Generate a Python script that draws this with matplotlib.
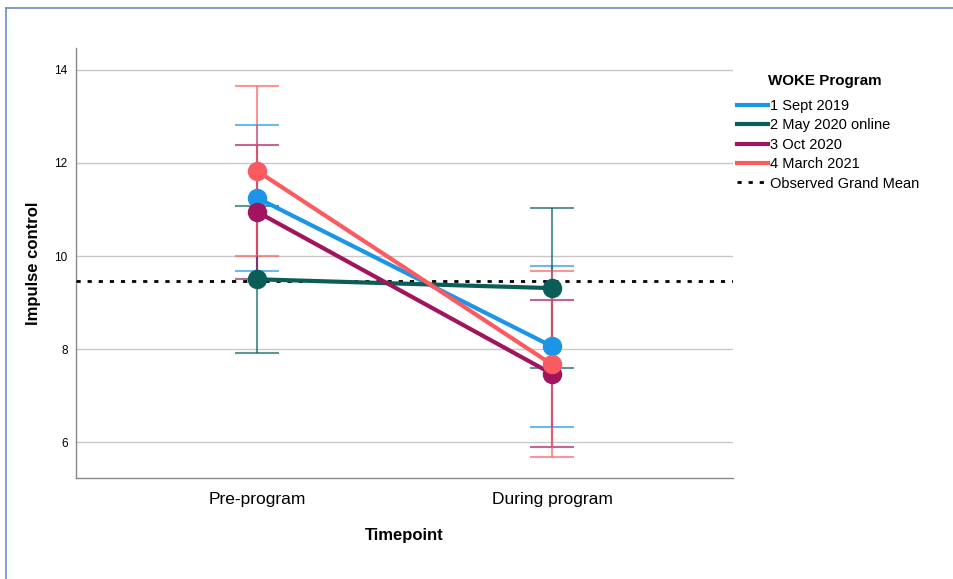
import matplotlib
matplotlib.use("Agg")
import matplotlib.pyplot as plt
from matplotlib.lines import Line2D
import numpy as np

plt.rcParams['font.family'] = ['Liberation Sans', 'DejaVu Sans']

timepoints = ["Pre-program", "During program"]
series = ["1 Sept 2019", "2 May 2020 online", "3 Oct 2020", "4 March 2021"]
colors = ["#1a95e8", "#0b5e57", "#a1145e", "#fb5a60"]
means = {
    "1 Sept 2019": [11.25, 8.06],
    "2 May 2020 online": [9.50, 9.31],
    "3 Oct 2020": [10.95, 7.47],
    "4 March 2021": [11.83, 7.67],
}
upper = {
    "1 Sept 2019": [12.82, 9.78],
    "2 May 2020 online": [11.08, 11.04],
    "3 Oct 2020": [12.39, 9.05],
    "4 March 2021": [13.66, 9.68],
}
lower = {
    "1 Sept 2019": [9.68, 6.33],
    "2 May 2020 online": [7.92, 7.59],
    "3 Oct 2020": [9.51, 5.89],
    "4 March 2021": [10.01, 5.68],
}
grand_mean = 9.46
yticks = [6, 8, 10, 12, 14]

fig = plt.figure(figsize=(9.54, 5.79), dpi=100)
ax = fig.add_axes([76/954, 1-478/579, (733-76)/954, (478-48)/579])

x = np.arange(len(timepoints))
for s, c in zip(series, colors):
    m = np.array(means[s]); u = np.array(upper[s]); l = np.array(lower[s])
    ax.errorbar(x, m, yerr=[m - l, u - m], fmt='none', ecolor=c, alpha=0.65,
                elinewidth=1.5, capsize=16, capthick=1.5, zorder=3)
for s, c in zip(series, colors):
    ax.plot(x, means[s], color=c, lw=3, marker='o', ms=13, zorder=4, label=s)

ax.axhline(grand_mean, color='black', ls=(0, (1.5, 2.5)), lw=2, zorder=3.5,
           label="Observed Grand Mean")

ax.set_xlim(-0.614, 1.614)
ax.set_ylim(5.23, 14.47)
ax.set_yticks(yticks)
ax.set_yticklabels([str(t) for t in yticks], fontsize=8.5)
ax.set_xticks(x)
ax.set_xticklabels(timepoints, fontsize=12.5)
ax.tick_params(axis='y', length=0, pad=6)
ax.tick_params(axis='x', length=0, pad=10)
ax.grid(axis='y', color='#c8c8c8', lw=1)
ax.set_axisbelow(True)
for sp in ['top', 'right']:
    ax.spines[sp].set_visible(False)
for sp in ['left', 'bottom']:
    ax.spines[sp].set_color('#888888')
    ax.spines[sp].set_linewidth(1)

ax.set_ylabel("Impulse control", fontsize=12, fontweight='bold', labelpad=10)
ax.set_xlabel("Timepoint", fontsize=12, fontweight='bold', labelpad=15)

handles = [Line2D([], [], color=c, lw=3) for c in colors]
handles.append(Line2D([], [], color='black', lw=2, ls=(0, (1.5, 2.5))))
leg = fig.legend(handles, series + ["Observed Grand Mean"], loc='upper left',
                 bbox_to_anchor=(737/954, 1-99/579), frameon=False, fontsize=10.5,
                 borderpad=0, borderaxespad=0,
                 handlelength=2.15, handletextpad=0.1, labelspacing=0.37)
fig.text(768/954, 1-81/579, "WOKE Program", fontsize=10.9, fontweight='bold',
         ha='left', va='center')

# outer frame
fig.add_artist(Line2D([6/954, 1], [1-8/579, 1-8/579], color='#6b8cc0', lw=1.2, transform=fig.transFigure))
fig.add_artist(Line2D([6/954, 6/954], [0, 1-8/579], color='#6b8cc0', lw=1.2, transform=fig.transFigure))

fig.savefig("out.png", dpi=100)
